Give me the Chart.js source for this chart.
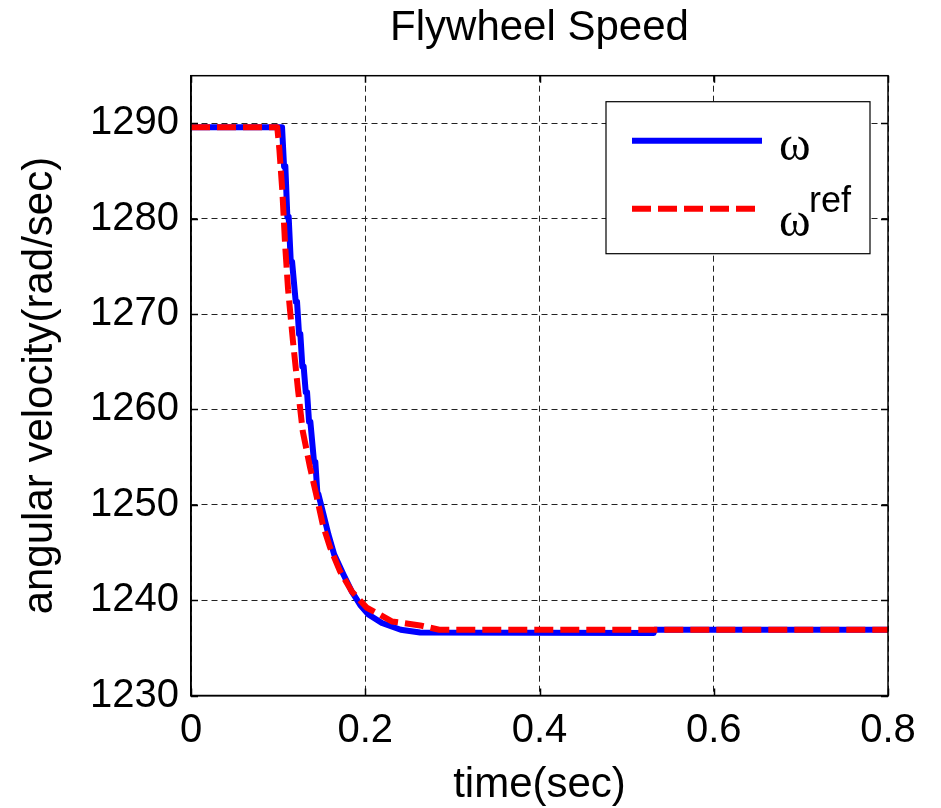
<!DOCTYPE html>
<html lang="en">
<head>
    <meta charset="UTF-8">
    <title>Flywheel Speed</title>
    <script src="https://cdn.jsdelivr.net/npm/chart.js"></script>
    <style>
        body { margin: 0; background: #fff; }
    </style>
</head>
<body>
    <canvas id="grafico" width="941" height="808"></canvas>

<script>
    // valores (tempo em s, velocidade em rad/s)
    const tempoOmega = [0, 0.1045, 0.1068, 0.1083, 0.1106, 0.1121, 0.1145, 0.116, 0.1202, 0.1217, 0.124, 0.1255,
        0.1278, 0.1293, 0.1317, 0.1332, 0.1355, 0.137, 0.1412, 0.1427, 0.145, 0.1462, 0.152, 0.1577, 0.1643,
        0.175, 0.1846, 0.1942, 0.2037, 0.2191, 0.2407, 0.263, 0.531, 0.532, 0.8];
    const valorOmega = [1289.6, 1289.6, 1285.5, 1285.5, 1280.2, 1280.2, 1275.5, 1275.5, 1271.3, 1271.3, 1267.9, 1267.9,
        1264.5, 1264.5, 1261.8, 1261.8, 1258.7, 1258.7, 1254.5, 1254.5, 1251.3, 1251.1, 1249.0, 1246.9, 1244.8,
        1242.7, 1240.9, 1239.5, 1238.5, 1237.6, 1236.9, 1236.6, 1236.55, 1236.9, 1236.9];

    const tempoRef = [0, 0.099, 0.1014, 0.1049, 0.108, 0.1114, 0.1172, 0.1229, 0.1283, 0.1367, 0.1444, 0.1513,
        0.1597, 0.1712, 0.1846, 0.2018, 0.2133, 0.2305, 0.263, 0.285, 0.8];
    const valorRef = [1289.6, 1289.6, 1287.3, 1282.8, 1277.3, 1272.6, 1267, 1262, 1257.7, 1253.9, 1250.8, 1247.9,
        1245.5, 1243.0, 1240.9, 1239.2, 1238.65, 1237.77, 1237.35, 1236.9, 1236.9];

    const ticksX = [0, 0.2, 0.4, 0.6, 0.8];
    const ticksY = [1230, 1240, 1250, 1260, 1270, 1280, 1290];

    const fonte = '"Liberation Sans", Arial, sans-serif';

    function pontos(tempos, valores) {
        let lista = [];
        for (let i = 0; i < tempos.length; i += 1) {
            lista.push({ x: tempos[i], y: valores[i] });
        }
        return lista;
    }

    // caixa do eixo, tracinhos internos e legenda estilo matlab
    const moldura = {
        id: 'moldura',
        afterDatasetsDraw(chart) {
            const { ctx, chartArea: a, scales } = chart;
            ctx.save();
            ctx.strokeStyle = '#000';
            ctx.lineWidth = 1.5;
            ctx.beginPath();
            ticksX.forEach(v => {
                const px = Math.round(scales.x.getPixelForValue(v)) + 0.5;
                ctx.moveTo(px, a.bottom); ctx.lineTo(px, a.bottom - 7);
                ctx.moveTo(px, a.top); ctx.lineTo(px, a.top + 7);
            });
            ticksY.forEach(v => {
                const py = Math.round(scales.y.getPixelForValue(v)) + 0.5;
                ctx.moveTo(a.left, py); ctx.lineTo(a.left + 7, py);
                ctx.moveTo(a.right, py); ctx.lineTo(a.right - 7, py);
            });
            ctx.stroke();
            ctx.strokeRect(a.left, a.top, a.right - a.left, a.bottom - a.top);

            // legenda
            const x0 = a.right - 18 - 264;
            const y0 = a.top + 26;
            ctx.fillStyle = '#fff';
            ctx.fillRect(x0, y0, 264, 152);
            ctx.lineWidth = 1.2;
            ctx.strokeRect(x0, y0, 264, 152);

            ctx.lineWidth = 6;
            ctx.strokeStyle = '#0000ff';
            ctx.beginPath();
            ctx.moveTo(x0 + 26, y0 + 39); ctx.lineTo(x0 + 156, y0 + 39);
            ctx.stroke();

            ctx.strokeStyle = '#ff0000';
            ctx.setLineDash([19, 7]);
            ctx.beginPath();
            ctx.moveTo(x0 + 26, y0 + 107); ctx.lineTo(x0 + 151, y0 + 107);
            ctx.stroke();
            ctx.setLineDash([]);

            ctx.fillStyle = '#000';
            ctx.textBaseline = 'alphabetic';
            ctx.textAlign = 'left';
            ctx.font = '48px "Liberation Serif", "DejaVu Serif", serif';
            ctx.fillText('ω', x0 + 173, y0 + 58);
            ctx.fillText('ω', x0 + 173, y0 + 134);
            ctx.font = '36px ' + fonte;
            ctx.fillText('ref', x0 + 203, y0 + 110);
            ctx.restore();
        }
    };

    const config = {
        type: 'line',
        data: {
            datasets: [{
                label: 'ω',
                data: pontos(tempoOmega, valorOmega),
                borderColor: '#0000ff',
                borderWidth: 6,
                borderJoinStyle: 'round',
                pointRadius: 0,
                order: 2
            }, {
                label: 'ωref',
                data: pontos(tempoRef, valorRef),
                borderColor: '#ff0000',
                borderWidth: 6,
                borderDash: [19, 7],
                borderJoinStyle: 'round',
                pointRadius: 0,
                order: 1
            }]
        },
        options: {
            responsive: false,
            animation: false,
            layout: { padding: { left: 0, right: 53, top: 0, bottom: 0 } },
            plugins: {
                legend: { display: false },
                tooltip: { enabled: false },
                title: {
                    display: true,
                    fullSize: false,
                    text: 'Flywheel Speed',
                    color: '#000',
                    font: { family: fonte, size: 42, weight: 'normal', lineHeight: 1.2 },
                    padding: { top: 3, bottom: 22.3 }
                }
            },
            scales: {
                x: {
                    type: 'linear',
                    min: 0,
                    max: 0.8,
                    afterBuildTicks: s => { s.ticks = ticksX.map(v => ({ value: v })); },
                    afterFit: s => { s.height = 112.5; },
                    grid: { color: '#222', lineWidth: 1, drawTicks: false },
                    border: { display: true, color: '#000', width: 1.5, dash: [6, 4] },
                    ticks: {
                        color: '#000',
                        padding: 11,
                        maxRotation: 0,
                        font: { family: fonte, size: 40 },
                        callback: v => String(+v.toFixed(1))
                    },
                    title: {
                        display: true,
                        text: 'time(sec)',
                        color: '#000',
                        font: { family: fonte, size: 42, lineHeight: 1.07 },
                        padding: { top: 0, bottom: 0 }
                    }
                },
                y: {
                    min: 1230,
                    max: 1295,
                    afterBuildTicks: s => { s.ticks = ticksY.map(v => ({ value: v })); },
                    afterFit: s => { s.width = 191; },
                    grid: { color: '#222', lineWidth: 1, drawTicks: false },
                    border: { display: true, color: '#000', width: 1.5, dash: [6, 4] },
                    ticks: {
                        color: '#000',
                        padding: 12,
                        font: { family: fonte, size: 40 },
                        callback: v => String(v)
                    },
                    title: {
                        display: true,
                        text: 'angular velocity(rad/sec)',
                        color: '#000',
                        font: { family: fonte, size: 42, lineHeight: 1.07 },
                        padding: { top: 17.5, bottom: 0 }
                    }
                }
            }
        },
        plugins: [moldura]
    };

    let grafico = new Chart(document.getElementById('grafico'), config);
</script>
</body>
</html>
